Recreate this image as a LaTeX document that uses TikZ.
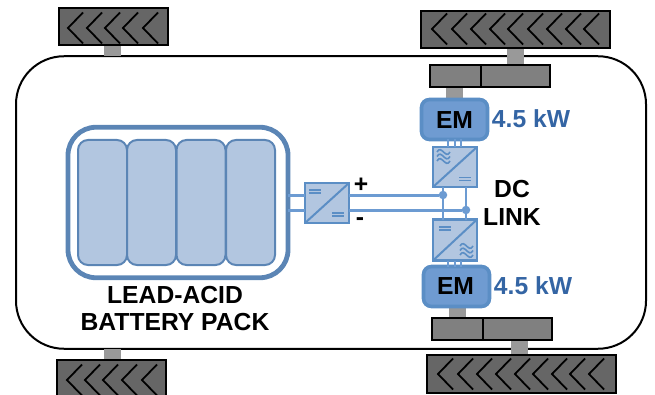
\documentclass[tikz,border=0pt]{standalone}
\usepackage{fontspec}
\setmainfont{Liberation Sans}
\definecolor{wheelgrey}{HTML}{666666}
\definecolor{axlegrey}{HTML}{999999}
\definecolor{boxgrey}{HTML}{808080}
\definecolor{packblue}{HTML}{5B85B5}
\definecolor{cellfill}{HTML}{B2C6E0}
\definecolor{busblue}{HTML}{6C9BD2}
\definecolor{emborder}{HTML}{5B8EC5}
\definecolor{emfill}{HTML}{6F9BD1}
\definecolor{kwblue}{HTML}{3465A4}
\newcommand{\px}{.75pt}
\newcommand{\eqsym}[2]{\draw[symline] (#1-6,#2-1.5) -- (#1+6,#2-1.5) (#1-6,#2+1.5) -- (#1+6,#2+1.5);}
\newcommand{\wavesym}[2]{\begin{scope}[shift={(#1,#2)}]
  \foreach \d in {-4.5,0,4.5}{\draw[symthin] (-6.5,\d) .. controls (-2,\d-8) and (2,\d+8) .. (6.5,\d);}
\end{scope}}
\newcommand{\chevrons}[2]{\foreach \t in {#1}{\draw[chevron] (\t+15,#2-15.5) -- (\t,#2) -- (\t+15,#2+15.5);}}
\tikzset{
  x=.75pt,y=-.75pt,
  sized/.style 2 args={minimum width=#1*.75pt,minimum height=#2*.75pt,inner sep=0pt,outer sep=0pt},
  wheel/.style={draw=black,line width=2*\px,fill=wheelgrey},
  axle/.style={fill=axlegrey,draw=none},
  gearbox/.style={draw=black,line width=1.8*\px,fill=boxgrey},
  body/.style={draw=black,line width=2*\px,rounded corners=48*\px},
  pack/.style={draw=packblue,line width=4.8*\px,rounded corners=28*\px},
  cell/.style={draw=packblue,fill=cellfill,line width=2*\px,rounded corners=10*\px},
  conv/.style={draw=emborder,fill=cellfill,line width=2.4*\px},
  emach/.style={draw=emborder,fill=emfill,line width=3.6*\px,rounded corners=8*\px},
  bus/.style={draw=busblue,line width=3*\px},
  phase/.style={draw=busblue,line width=2.4*\px},
  dot/.style={circle,fill=busblue,inner sep=0pt,outer sep=0pt,minimum size=8.5*\px},
  symline/.style={draw=emborder,line width=1.7*\px},
  symthin/.style={draw=emborder,line width=1.6*\px},
  diag/.style={draw=emborder,line width=2*\px},
  chevron/.style={draw=black,line width=1.8*\px},
  lab/.style={font=\bfseries\fontsize{18.5pt}{20pt}\selectfont,inner sep=0pt,outer sep=0pt},
  kw/.style={lab,text=kwblue},
}
\begin{document}
\begin{tikzpicture}
\useasboundingbox (0,0) rectangle (655,395);
% car body
\node[body,sized={630}{292.5}] (carbody) at (331,202.5) {};
% left wheels
\node[axle,sized={17}{11}] (axTL) at (112.5,50.5) {};
\node[axle,sized={17}{11}] (axBL) at (112.5,354.5) {};
\node[wheel,sized={109}{37}] (wheelTL) at (113,26.5) {};
\node[wheel,sized={109}{37}] (wheelBL) at (111.5,378.5) {};
\chevrons{68,87,105,123,143}{28}
\chevrons{67,85,103,122,142}{380}
% right top drive
\node[axle,sized={17}{17}] (axTR) at (515.5,56) {};
\node[axle,sized={17}{13}] (axTM) at (454.5,93) {};
\node[wheel,sized={189}{37}] (wheelTR) at (515.5,29.5) {};
\chevrons{432,452,471,490,508,528,547,566,584}{29}
\node[gearbox,sized={51}{22},anchor=east] (gbTa) at (481,76) {};
\node[gearbox,sized={69}{22},anchor=west] (gbTb) at (481,76) {};
% right bottom drive
\node[axle,sized={17}{16}] (axBR) at (519.5,347) {};
\node[axle,sized={17}{12}] (axBM) at (457,312.5) {};
\node[wheel,sized={189}{38}] (wheelBR) at (521,374) {};
\chevrons{438,458,477,496,515,533,552,570,589}{374}
\node[gearbox,sized={51}{22},anchor=east] (gbBa) at (483,329) {};
\node[gearbox,sized={69}{22},anchor=west] (gbBb) at (483,329) {};
% battery
\node[pack,sized={220}{150.5}] (battery) at (178,202.5) {};
\node[cell,sized={49}{125}] (cellA) at (102.5,202.5) {};
\node[cell,sized={49}{125}] (cellB) at (151.5,202.5) {};
\node[cell,sized={49}{125}] (cellC) at (201,202.5) {};
\node[cell,sized={49}{125}] (cellD) at (250.5,202.5) {};
% converters
\node[dot] (dotp) at (443,195) {};
\node[dot] (dotn) at (466,210) {};
\node[conv,sized={44}{40}] (dcdc) at (327,203) {};
\node[conv,sized={44}{40}] (invT) at (455,167) {};
\node[conv,sized={44}{41}] (invB) at (455,240) {};
% electric machines
\node[emach,sized={66}{40}] (emT) at (454.5,119.5) {};
\node[emach,sized={66}{40}] (emB) at (456.5,286.5) {};
% connectors
\draw[bus] (battery.east |- dotp) -- (dcdc.west |- dotp);
\draw[bus] (battery.east |- dotn) -- (dcdc.west |- dotn);
\draw[bus] (dcdc.east |- dotp) -- (dotp);
\draw[bus] (dcdc.east |- dotn) -- (dotn);
\draw[phase] (dotp |- invT.south) -- (dotp |- invB.north);
\draw[phase] (dotn |- invT.south) -- (dotn |- invB.north);
\foreach \dx in {-7,0,6}{
  \draw[phase] ([xshift=\dx*\px]invT.north) -- ([xshift=\dx*\px]invT.north |- emT.south);
  \draw[phase] ([xshift=\dx*\px]invB.south) -- ([xshift=\dx*\px]invB.south |- emB.north);
}
% converter symbols
\draw[diag] (dcdc.south west) -- (dcdc.north east);
\draw[diag] (invT.south west) -- (invT.north east);
\draw[diag] (invB.south west) -- (invB.north east);
\eqsym{315}{191.5}
\eqsym{338}{214.5}
\wavesym{443.5}{156.5}
\eqsym{465}{179}
\eqsym{445}{228.5}
\wavesym{466.5}{250.5}
% labels
\node[lab] (emTl) at (454.5,120) {EM};
\node[lab] (emBl) at (455.5,286) {EM};
\node[kw] (kwT) at (531,119) {4.5 kW};
\node[kw] (kwB) at (533,285.5) {4.5 kW};
\node[lab] (dcl) at (512,189.5) {DC};
\node[lab] (linkl) at (512,217) {LINK};
\node[lab] (plusl) at (361,185) {+};
\node[lab] (minusl) at (360,222) {-};
\node[lab] (leadl) at (175,295) {LEAD-ACID};
\node[lab] (packl) at (175,322.5) {BATTERY PACK};
\end{tikzpicture}
\end{document}
